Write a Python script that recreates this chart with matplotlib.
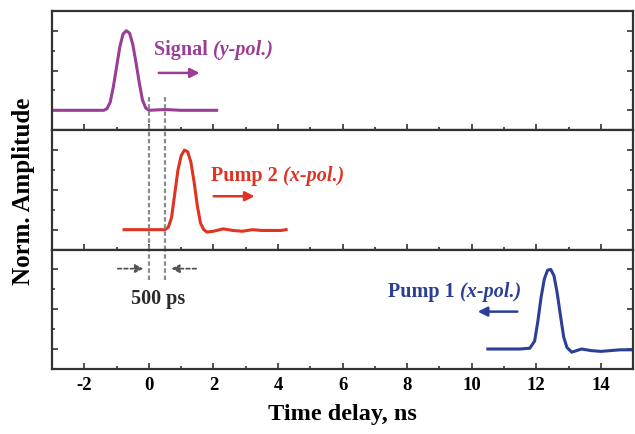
import matplotlib
matplotlib.use("Agg")
import matplotlib.pyplot as plt
from matplotlib.ticker import MultipleLocator, NullFormatter

plt.rcParams['font.family'] = ['Liberation Serif', 'DejaVu Serif']
plt.rcParams['font.weight'] = 'bold'
plt.rcParams['axes.unicode_minus'] = False

# traces (time in ns, normalized amplitude)
sig_t = [-3.0, -2.0, -1.4, -1.3, -1.2, -1.1, -1.0, -0.9, -0.8, -0.7, -0.6, -0.5,
         -0.4, -0.3, -0.2, -0.1, 0.0, 0.5, 1.0, 1.5, 2.1]
sig_a = [0.0, 0.0, 0.0, 0.02, 0.1, 0.3, 0.55, 0.8, 0.96, 1.0, 0.97, 0.83,
         0.6, 0.35, 0.13, 0.03, 0.0, 0.01, 0.0, 0.0, 0.0]

p2_t = [-0.77, 0.0, 0.5, 0.6, 0.7, 0.8, 0.9, 1.0, 1.1, 1.2, 1.3, 1.4, 1.5, 1.6,
        1.7, 1.8, 2.0, 2.3, 2.6, 2.9, 3.2, 3.5, 3.8, 4.1, 4.25]
p2_a = [0.0, 0.0, 0.0, 0.03, 0.15, 0.45, 0.75, 0.93, 1.0, 0.98, 0.85, 0.6, 0.3, 0.08,
        0.0, -0.03, -0.02, 0.01, -0.01, -0.02, 0.0, -0.01, -0.01, -0.01, 0.0]

p1_t = [10.5, 11.0, 11.5, 11.8, 11.95, 12.05, 12.15, 12.25, 12.35, 12.45, 12.55,
        12.65, 12.75, 12.85, 12.95, 13.1, 13.4, 13.7, 14.0, 14.3, 14.6, 15.0]
p1_a = [0.0, 0.0, 0.0, 0.01, 0.1, 0.35, 0.65, 0.88, 0.99, 1.0, 0.92,
        0.7, 0.42, 0.15, 0.02, -0.04, 0.0, -0.02, -0.03, -0.02, -0.01, -0.01]

purple = '#9a3d94'
red = '#e03322'
blue = '#2c3f96'
spine = '#333333'

fig, axes = plt.subplots(3, 1, sharex=True, figsize=(6.35, 4.34), dpi=100)
fig.subplots_adjust(left=0.082, right=0.997, bottom=0.150, top=0.975, hspace=0)

for ax in axes:
    ax.set_xlim(-3, 15)
    ax.set_ylim(-0.25, 1.25)
    ax.xaxis.set_major_locator(MultipleLocator(2))
    ax.xaxis.set_minor_locator(MultipleLocator(1))
    ax.yaxis.set_major_locator(MultipleLocator(0.5))
    ax.yaxis.set_minor_locator(MultipleLocator(0.25))
    ax.yaxis.set_major_formatter(NullFormatter())
    ax.tick_params(which='both', direction='in', left=True, right=True, bottom=True, top=False,
                   color=spine, width=1.2)
    ax.tick_params(which='major', length=4)
    ax.tick_params(which='minor', length=2.5)
    ax.tick_params(axis='x', labelsize=13.5, pad=6)
    for s in ax.spines.values():
        s.set_color(spine)
        s.set_linewidth(1.6)
    for lab in ax.get_xticklabels():
        lab.set_fontweight('bold')

ax1, ax2, ax3 = axes

ax1.plot(sig_t, sig_a, color=purple, lw=2.2)
ax2.plot(p2_t, p2_a, color=red, lw=2.2)
ax3.plot(p1_t, p1_a, color=blue, lw=2.2)

# dashed delay markers
dash = dict(color='#8a8a8a', lw=1.6, ls=(0, (2, 1.2)))
for x0 in [0.0, 0.5]:
    ax1.plot([x0, x0], [-0.25, 0.165], **dash)
    ax2.plot([x0, x0], [-0.25, 1.25], **dash)
    ax3.plot([x0, x0], [0.87, 1.25], **dash)

arr_d = dict(arrowstyle='-|>', color='#555555', lw=1.3, ls=(0, (2, 1.5)), mutation_scale=12)
ax3.annotate('', xy=(-0.08, 1.01), xytext=(-1.05, 1.01), arrowprops=arr_d)
ax3.annotate('', xy=(0.6, 1.01), xytext=(1.55, 1.01), arrowprops=arr_d)
ax3.text(0.3, 0.63, '500 ps', ha='center', va='center', fontsize=14.5, fontweight='bold', color='#2a2a2a')


def label(ax, x, y, name, pol, color):
    t = ax.text(x, y, name + ' ', ha='left', va='center', fontsize=14.5, fontweight='bold', color=color)
    ax.annotate(pol, xy=(1, 0), xycoords=t, ha='left', va='bottom', fontsize=14.5,
                fontweight='bold', fontstyle='italic', color=color)


label(ax1, 0.15, 0.76, 'Signal', '(y-pol.)', purple)
label(ax2, 1.92, 0.68, 'Pump 2', '(x-pol.)', red)
label(ax3, 7.42, 0.72, 'Pump 1', '(x-pol.)', blue)

ax1.annotate('', xy=(1.66, 0.47), xytext=(0.22, 0.47),
             arrowprops=dict(arrowstyle='-|>', color=purple, lw=1.8, mutation_scale=14))
ax2.annotate('', xy=(3.36, 0.42), xytext=(1.92, 0.42),
             arrowprops=dict(arrowstyle='-|>', color=red, lw=1.8, mutation_scale=14))
ax3.annotate('', xy=(10.1, 0.47), xytext=(11.5, 0.47),
             arrowprops=dict(arrowstyle='-|>', color=blue, lw=1.8, mutation_scale=14))

ax3.set_xlabel('Time delay, ns', fontsize=17.5, fontweight='bold', labelpad=7)
fig.text(0.037, 0.56, 'Norm. Amplitude', rotation=90, ha='center', va='center',
         fontsize=18, fontweight='bold')

fig.savefig('out.png', dpi=100)
